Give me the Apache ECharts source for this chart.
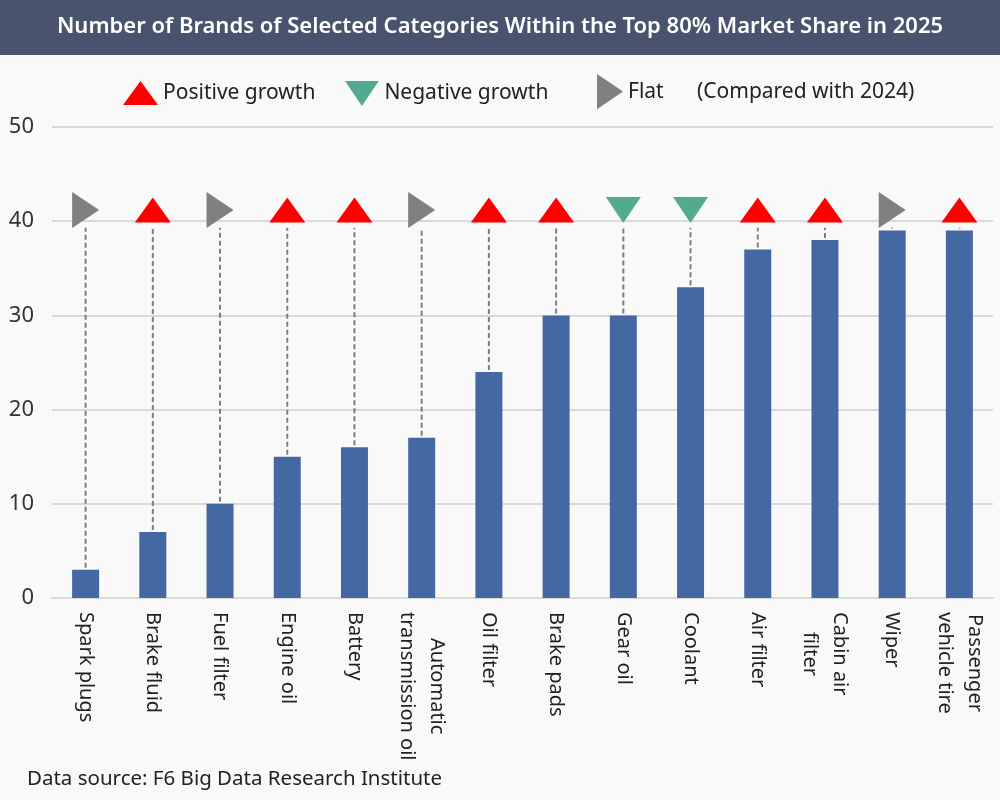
<!DOCTYPE html>
<html>
<head>
<meta charset="utf-8">
<title>Brands within top 80% market share</title>
<script src="https://cdn.jsdelivr.net/npm/echarts@6/dist/echarts.min.js"></script>
<style>
  html, body { margin: 0; padding: 0; background: #f9f9f9; }
  #main { width: 1000px; height: 800px; }
</style>
</head>
<body>
<div id="main"></div>
<script>
// categories in display order
var categories = ['Spark plugs', 'Brake fluid', 'Fuel filter', 'Engine oil', 'Battery',
  'Automatic\ntransmission oil', 'Oil filter', 'Brake pads', 'Gear oil', 'Coolant',
  'Air filter', 'Cabin air\nfilter', 'Wiper', 'Passenger\nvehicle tire'];

// number of brands, 2025
var brandCounts = [3, 7, 10, 15, 16, 17, 24, 30, 30, 33, 37, 38, 39, 39];

// change vs 2024: up / down / flat
var trends = ['flat', 'up', 'flat', 'up', 'up', 'flat', 'up', 'up', 'down', 'down', 'up', 'up', 'flat', 'up'];

var yTicks = [0, 10, 20, 30, 40, 50];

var FONT = '"Noto Sans", "Open Sans", sans-serif';
var LABEL_SIZE = 20;
var MARK_Y = 41.2;      // where the trend markers sit
var LINE_TOP = 39.3;    // dashed guide ends just below the markers

var DOWN_PATH = 'path://M0,0 L10,0 L5,7.4 Z';
var RIGHT_PATH = 'path://M0,0 L7.4,5 L0,10 Z';

// centre the lines of two-line axis labels, like the source:
// each line gets a left padding of half the gap to the longest line
var measure = document.createElement('canvas').getContext('2d');
measure.font = LABEL_SIZE + 'px "Noto Sans"';
var labelRich = {};
var labelText = categories.map(function (c, i) {
  var lines = c.split('\n');
  if (lines.length < 2) return c;
  var widths = lines.map(function (l) { return measure.measureText(l).width; });
  var maxW = Math.max.apply(null, widths);
  return lines.map(function (l, j) {
    var key = 'm' + i + '_' + j;
    labelRich[key] = {
      padding: [0, 0, 0, Math.round((maxW - widths[j]) / 2)],
      fontSize: LABEL_SIZE, lineHeight: 30, color: '#222', fontFamily: FONT
    };
    return '{' + key + '|' + l + '}';
  }).join('\n');
});

function markData(kind) {
  return trends.map(function (t) { return t === kind ? MARK_Y : null; });
}

function legendAt(left, top, name, icon, w, h) {
  return {
    left: left,
    top: top,
    padding: 0,
    itemWidth: w,
    itemHeight: h,
    textStyle: { fontSize: 21, color: '#222', fontFamily: FONT },
    data: [{ name: name, icon: icon }]
  };
}

var chart = echarts.init(document.getElementById('main'));

chart.setOption({
  backgroundColor: '#f9f9f9',
  animation: false,
  textStyle: { fontFamily: FONT },
  title: {
    text: 'Number of Brands of Selected Categories Within the Top 80% Market Share in 2025',
    left: 'center',
    top: 11,
    textStyle: { color: '#fff', fontSize: 22, fontWeight: 600, fontFamily: FONT }
  },
  graphic: [
    { type: 'rect', z: -1, shape: { x: 0, y: 0, width: 1000, height: 55 }, style: { fill: '#4a536e' } },
    { type: 'text', left: 697, top: 82, style: { text: '(Compared with 2024)', fontSize: 21, fill: '#222', fontFamily: FONT } },
    { type: 'text', left: 27, top: 769, style: { text: 'Data source: F6 Big Data Research Institute', fontSize: 20.5, fill: '#222', fontFamily: FONT } }
  ],
  legend: [
    legendAt(123, 81, 'Positive growth', 'triangle', 35, 24),
    legendAt(345, 81, 'Negative growth', DOWN_PATH, 35, 25),
    legendAt(597, 74, 'Flat', RIGHT_PATH, 26, 36)
  ],
  grid: { left: 52, right: 7, top: 127, bottom: 202 },
  xAxis: {
    type: 'category',
    data: categories,
    axisTick: { show: false },
    axisLine: { lineStyle: { color: '#d9d9d9', width: 2 } },
    axisLabel: {
      interval: 0,
      rotate: -90,
      margin: 14,
      fontSize: LABEL_SIZE,
      lineHeight: 30,
      color: '#222',
      rich: labelRich,
      formatter: function (value, idx) {
        return labelText[idx];
      }
    }
  },
  yAxis: {
    type: 'value',
    min: yTicks[0],
    max: yTicks[yTicks.length - 1],
    interval: 10,
    axisLine: { show: false },
    axisTick: { show: false },
    axisLabel: { fontSize: 22, color: '#333', margin: 18 },
    splitLine: { lineStyle: { color: '#d9d9d9', width: 2 } }
  },
  series: [
    {
      name: 'Brands',
      type: 'bar',
      barWidth: 27,
      data: brandCounts,
      itemStyle: { color: '#4468a2' },
      z: 2
    },
    {
      name: 'guide',
      type: 'custom',
      z: 3,
      data: brandCounts.map(function (v, i) { return [i, v]; }),
      renderItem: function (params, api) {
        var from = api.coord([api.value(0), api.value(1)]);
        var to = api.coord([api.value(0), LINE_TOP]);
        return {
          type: 'line',
          shape: { x1: from[0], y1: from[1] - 2, x2: to[0], y2: to[1] },
          style: { stroke: '#7f7f7f', lineWidth: 2, lineDash: [5, 3] }
        };
      }
    },
    {
      name: 'Positive growth',
      type: 'scatter',
      symbol: 'triangle',
      symbolSize: [36, 25],
      data: markData('up'),
      itemStyle: { color: '#ff0000', opacity: 1 },
      z: 4
    },
    {
      name: 'Negative growth',
      type: 'scatter',
      symbol: DOWN_PATH,
      symbolSize: [35, 26],
      data: markData('down'),
      itemStyle: { color: '#52ab91', opacity: 1 },
      z: 4
    },
    {
      name: 'Flat',
      type: 'scatter',
      symbol: RIGHT_PATH,
      symbolSize: [27, 36],
      data: markData('flat'),
      itemStyle: { color: '#808080', opacity: 1 },
      z: 4
    }
  ]
});
</script>
</body>
</html>
